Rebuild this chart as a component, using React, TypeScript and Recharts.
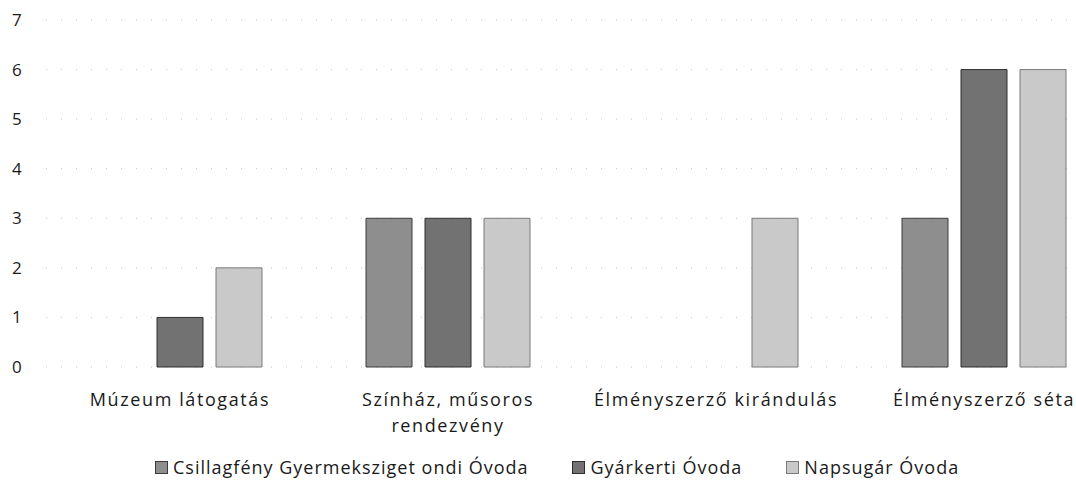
import React from "react";
import {
  BarChart,
  Bar,
  XAxis,
  YAxis,
  CartesianGrid,
  Legend,
} from "recharts";

const categories = [
  "Múzeum látogatás",
  "Színház, műsoros rendezvény",
  "Élményszerző kirándulás",
  "Élményszerző séta",
];
const csillagfeny = [0, 3, 0, 3];
const gyarkerti = [1, 3, 0, 6];
const napsugar = [2, 3, 3, 6];
const yTicks = [0, 1, 2, 3, 4, 5, 6, 7];

const series = [
  { key: "csillagfeny", name: "Csillagfény Gyermeksziget ondi Óvoda", fill: "#8e8e8e", stroke: "#3c3c3c" },
  { key: "gyarkerti", name: "Gyárkerti Óvoda", fill: "#727272", stroke: "#2e2e2e" },
  { key: "napsugar", name: "Napsugár Óvoda", fill: "#c9c9c9", stroke: "#7a7a7a" },
];

const data = categories.map((name, i) => ({
  name,
  csillagfeny: csillagfeny[i],
  gyarkerti: gyarkerti[i],
  napsugar: napsugar[i],
}));

const FONT = "'Open Sans', sans-serif";

// wrap long labels into two lines
const wrapLabel = (s: string) => {
  if (s.length <= 23) return [s];
  const words = s.split(" ");
  const lines: string[] = [];
  let cur = "";
  words.forEach((w) => {
    const next = cur ? cur + " " + w : w;
    if (next.length > 17 && cur) {
      lines.push(cur);
      cur = w;
    } else cur = next;
  });
  if (cur) lines.push(cur);
  return lines;
};

const XTick = (props: any) => {
  const { x, y, payload } = props;
  const lines = wrapLabel(payload.value);
  return (
    <text
      x={x}
      y={y + 15}
      textAnchor="middle"
      fontSize={18}
      fontFamily={FONT}
      letterSpacing={1.6}
      fill="#1a1a1a"
    >
      {lines.map((l, i) => (
        <tspan key={i} x={x} dy={i === 0 ? "0.9em" : 26}>
          {l}
        </tspan>
      ))}
    </text>
  );
};

const YTick = (props: any) => {
  const { y, payload } = props;
  return (
    <text x={12} y={y} dy={6} fontSize={17} fontFamily={FONT} fill="#1a1a1a">
      {payload.value}
    </text>
  );
};

const LegendContent = () => (
  <div
    style={{
      display: "flex",
      fontFamily: FONT,
      fontSize: 18,
      letterSpacing: 1.0,
      color: "#1a1a1a",
      whiteSpace: "nowrap",
    }}
  >
    {series.map((s, i) => (
      <div
        key={s.key}
        style={{
          display: "flex",
          alignItems: "center",
          marginLeft: i === 0 ? 155 : 44,
        }}
      >
        <span
          style={{
            display: "inline-block",
            width: 11,
            height: 11,
            background: s.fill,
            border: `1px solid ${s.stroke}`,
            marginRight: 5,
          }}
        />
        {s.name}
      </div>
    ))}
  </div>
);

export default function App() {
  return (
    <div
      style={{
        position: "absolute",
        left: 0,
        top: 0,
        width: 1076,
        height: 495,
        overflow: "hidden",
        background: "#fff",
      }}
    >
      <BarChart
        width={1122}
        height={495}
        data={data}
        margin={{ top: 20, right: 4, bottom: 0, left: 0 }}
        barSize={46}
        barGap={13}
      >
        <CartesianGrid
          vertical={false}
          stroke="#c4c4c4"
          strokeDasharray="1 14"
        />
        <XAxis
          dataKey="name"
          axisLine={false}
          tickLine={false}
          height={128}
          interval={0}
          tick={<XTick />}
        />
        <YAxis
          width={46}
          domain={[0, 7]}
          ticks={yTicks}
          axisLine={false}
          tickLine={false}
          tick={<YTick />}
        />
        <Legend
          verticalAlign="middle"
          align="center"
          wrapperStyle={{ position: "absolute", top: 455, left: 0, width: 1076 }}
          content={<LegendContent />}
        />
        {series.map((s) => (
          <Bar
            key={s.key}
            dataKey={s.key}
            name={s.name}
            fill={s.fill}
            stroke={s.stroke}
            strokeWidth={1}
            isAnimationActive={false}
          />
        ))}
      </BarChart>
    </div>
  );
}
